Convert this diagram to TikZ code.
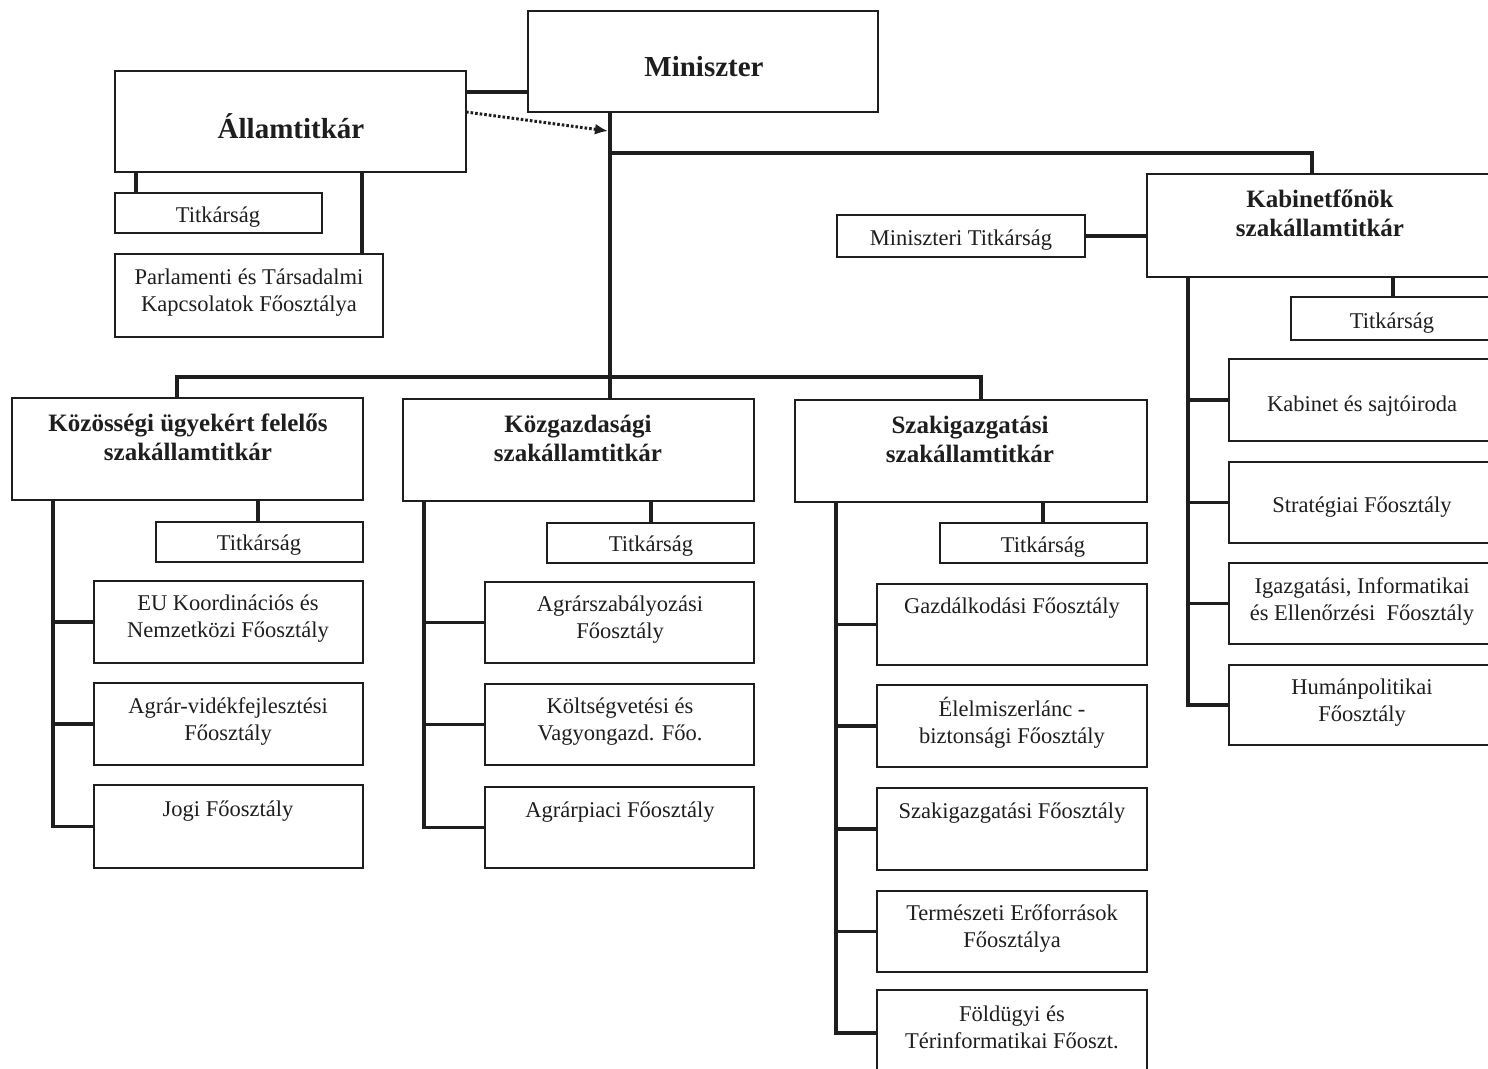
\documentclass[tikz,border=0pt]{standalone}
\usepackage{fontspec}
\setmainfont{Liberation Serif}
\usetikzlibrary{arrows.meta}

\definecolor{ink}{HTML}{1E1E1E}

\tikzset{
  box/.style={draw=ink, line width=2pt, inner sep=0pt, outer sep=0pt, fill=white},
  conn/.style={draw=ink, line width=3.2pt, line join=miter},
  dotline/.style={draw=ink, line width=3pt, dash pattern=on 2.6pt off 2pt,
    -{Latex[length=13pt,width=11pt]}},
  txt/.style={align=center, inner sep=0pt, text=ink, yshift=-3pt,
    font=\fontsize{22.5}{27}\selectfont},
  head/.style={align=center, inner sep=0pt, text=ink, font=\fontsize{25}{29}\selectfont\bfseries},
  chief/.style={align=center, inner sep=0pt, text=ink, font=\fontsize{29}{34}\selectfont\bfseries},
}

% rectangle node given by its corners: name, x1, y1, x2, y2
\newcommand\orgbox[5]{%
  \node[box, minimum width={#4pt-#2pt}, minimum height={#5pt-#3pt}]
    (#1) at ({(#2+#4)/2},{(#3+#5)/2}) {};}

\begin{document}
\begin{tikzpicture}[x=1pt,y=-1pt]
\useasboundingbox (0,0) rectangle (1488,1068);
\fill[white] (0,0) rectangle (1488,1068);
\clip (0,0) rectangle (1488,1068);

% --- top level ---
\orgbox{min}{528}{11}{878}{112}
\orgbox{allam}{115}{71}{466}{172}
\orgbox{atit}{115}{193}{322}{233}
\orgbox{parl}{115}{254}{383}{337}

% --- cabinet branch ---
\orgbox{mtit}{837}{215}{1085}{257}
\orgbox{kab}{1147}{174}{1500}{277}
\orgbox{ktit}{1291}{297}{1500}{340}
\orgbox{ksaj}{1229}{359}{1500}{441}
\orgbox{kstr}{1229}{462}{1500}{543}
\orgbox{kiga}{1229}{563}{1500}{644}
\orgbox{khum}{1229}{665}{1500}{745}

% --- first column ---
\orgbox{kozos}{12}{398}{363}{500}
\orgbox{c1tit}{156}{522}{363}{562}
\orgbox{c1a}{94}{581}{363}{663}
\orgbox{c1b}{94}{683}{363}{765}
\orgbox{c1c}{94}{785}{363}{868}

% --- second column ---
\orgbox{kgazd}{403}{399}{754}{501}
\orgbox{c2tit}{547}{523}{754}{563}
\orgbox{c2a}{485}{582}{754}{663}
\orgbox{c2b}{485}{684}{754}{765}
\orgbox{c2c}{485}{787}{754}{868}

% --- third column ---
\orgbox{szak}{795}{400}{1147}{502}
\orgbox{c3tit}{940}{523}{1147}{563}
\orgbox{c3a}{877}{584}{1147}{665}
\orgbox{c3b}{877}{685}{1147}{767}
\orgbox{c3c}{877}{788}{1147}{870}
\orgbox{c3d}{877}{891}{1147}{972}
\orgbox{c3e}{877}{990}{1147}{1076}

% --- routing points ---
\coordinate (tk) at (610,377);
\coordinate (tb) at (1312,153);
\coordinate (b1) at (177,377);
\coordinate (b3) at (981,377);
\coordinate (arrowtip) at (608,131);
\coordinate (mline) at (497,92);
\coordinate (av1) at (136,0);
\coordinate (av2) at (362,0);
\coordinate (kv) at (1188,0);
\coordinate (kt) at (1393,0);
\coordinate (v1) at (53,0);
\coordinate (t1) at (258,0);
\coordinate (v2) at (424,0);
\coordinate (t2) at (651,0);
\coordinate (v3) at (836,0);
\coordinate (t3) at (1043,0);

% --- connectors ---
\draw[conn] (allam.east |- mline) -- (min.west |- mline);
\draw[dotline] (allam.east |- min.south) -- (arrowtip);
\draw[conn] (tk |- min.south) -- (tk |- kgazd.north);
\draw[conn] (tk |- tb) -- (tb) -- (tb |- kab.north);
\draw[conn] (b1 |- kozos.north) -- (b1) -- (b3) -- (b3 |- szak.north);
\draw[conn] (mtit.east) -- (mtit.east -| kab.west);
\draw[conn] (av1 |- allam.south) -- (av1 |- atit.north);
\draw[conn] (av2 |- allam.south) -- (av2 |- parl.north);

\draw[conn] (kt |- kab.south) -- (kt |- ktit.north);
\draw[conn] (kv |- kab.south) -- (kv |- khum.west) -- (khum.west);
\foreach \b in {ksaj,kstr,kiga} \draw[conn] (kv |- \b.west) -- (\b.west);

\draw[conn] (t1 |- kozos.south) -- (t1 |- c1tit.north);
\draw[conn] (v1 |- kozos.south) -- (v1 |- c1c.west) -- (c1c.west);
\foreach \b in {c1a,c1b} \draw[conn] (v1 |- \b.west) -- (\b.west);

\draw[conn] (t2 |- kgazd.south) -- (t2 |- c2tit.north);
\draw[conn] (v2 |- kgazd.south) -- (v2 |- c2c.west) -- (c2c.west);
\foreach \b in {c2a,c2b} \draw[conn] (v2 |- \b.west) -- (\b.west);

\draw[conn] (t3 |- szak.south) -- (t3 |- c3tit.north);
\draw[conn] (v3 |- szak.south) -- (v3 |- c3e.west) -- (c3e.west);
\foreach \b in {c3a,c3b,c3c,c3d} \draw[conn] (v3 |- \b.west) -- (\b.west);

% --- texts ---
\node[chief] (minT) at (704,67) {Miniszter};
\node[chief] (allT) at (291,126) {Államtitkár};
\node[txt] (atitT) at (218,214) {Titkárság};
\node[txt] (parlT) at (249,290) {Parlamenti és Társadalmi\\Kapcsolatok Főosztálya};

\node[txt] (mtitT) at (961,237) {Miniszteri Titkárság};
\node[head] (kabT) at (1320,213) {Kabinetfőnök\\szakállamtitkár};
\node[txt] (ktitT) at (1392,320) {Titkárság};
\node[txt] (ksajT) at (1362,403) {Kabinet és sajtóiroda};
\node[txt] (kstrT) at (1362,504) {Stratégiai Főosztály};
\node[txt] (kigaT) at (1362,598) {Igazgatási, Informatikai\\és Ellenőrzési~ Főosztály};
\node[txt] (khumT) at (1362,700) {Humánpolitikai\\Főosztály};

\node[head] (kozosT) at (188,437) {Közösségi ügyekért felelős\\szakállamtitkár};
\node[txt] (c1titT) at (259,542) {Titkárság};
\node[txt] (c1aT) at (228,616) {EU Koordinációs és\\Nemzetközi Főosztály};
\node[txt] (c1bT) at (228,718) {Agrár-vidékfejlesztési\\Főosztály};
\node[txt] (c1cT) at (228,808) {Jogi Főosztály};

\node[head] (kgazdT) at (578,438) {Közgazdasági\\szakállamtitkár};
\node[txt] (c2titT) at (651,543) {Titkárság};
\node[txt] (c2aT) at (620,617) {Agrárszabályozási\\Főosztály};
\node[txt] (c2bT) at (620,719) {Költségvetési és\\Vagyongazd. Főo.};
\node[txt] (c2cT) at (620,809) {Agrárpiaci Főosztály};

\node[head] (szakT) at (970,439) {Szakigazgatási\\szakállamtitkár};
\node[txt] (c3titT) at (1043,544) {Titkárság};
\node[txt] (c3aT) at (1012,605) {Gazdálkodási Főosztály};
\node[txt] (c3bT) at (1012,720) {Élelmiszerlánc -\\biztonsági Főosztály};
\node[txt] (c3cT) at (1012,810) {Szakigazgatási Főosztály};
\node[txt] (c3dT) at (1012,925) {Természeti Erőforrások\\Főosztálya};
\node[txt] (c3eT) at (1012,1024) {Földügyi és\\Térinformatikai Főoszt.};
\end{tikzpicture}
\end{document}
